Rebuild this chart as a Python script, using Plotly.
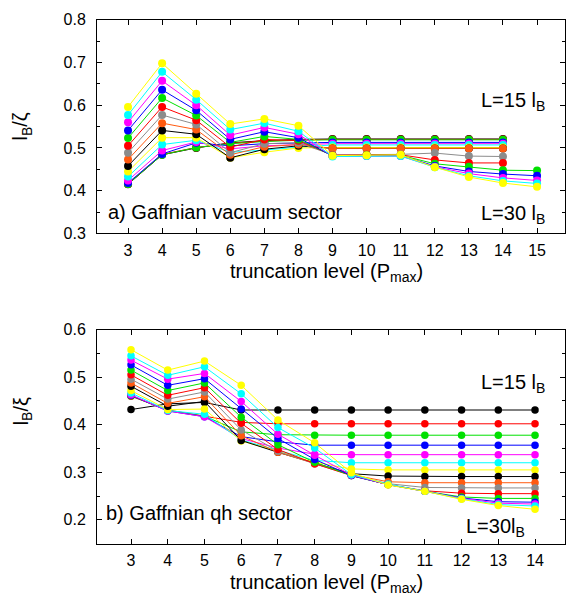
import plotly.graph_objects as go

# ---------------- data ----------------
x_top = [3, 4, 5, 6, 7, 8, 9, 10, 11, 12, 13, 14, 15]
x_bot = [3, 4, 5, 6, 7, 8, 9, 10, 11, 12, 13, 14]

series_names = ["L=15", "L=16", "L=17", "L=18", "L=19", "L=20", "L=21", "L=22",
                "L=23", "L=24", "L=25", "L=26", "L=27", "L=28", "L=29", "L=30"]
series_colors = ["#000000", "#ff0000", "#00e000", "#0000ff", "#ff00ff", "#00ffff",
                 "#ffff00", "#000000", "#ff5a10", "#8c8c8c", "#ff0000", "#00e000",
                 "#0000ff", "#ff00ff", "#00ffff", "#ffff00"]

# panel a) Gaffnian vacuum sector : l_B/zeta vs P_max (x = 3..14, or 3..15)
top_L15 = [0.415, 0.484, 0.500, 0.512, 0.517, 0.520, 0.521, 0.521, 0.521, 0.521, 0.521, 0.521]
top_L16 = [0.416, 0.485, 0.501, 0.511, 0.516, 0.519, 0.520, 0.520, 0.520, 0.520, 0.520, 0.520]
top_L17 = [0.416, 0.484, 0.501, 0.510, 0.515, 0.518, 0.519, 0.519, 0.519, 0.519, 0.519, 0.519]
top_L18 = [0.418, 0.486, 0.512, 0.505, 0.510, 0.512, 0.513, 0.513, 0.513, 0.513, 0.513, 0.513]
top_L19 = [0.424, 0.494, 0.514, 0.498, 0.505, 0.508, 0.510, 0.510, 0.510, 0.510, 0.510, 0.510]
top_L20 = [0.433, 0.508, 0.518, 0.490, 0.495, 0.502, 0.507, 0.507, 0.507, 0.507, 0.507, 0.507]
top_L21 = [0.445, 0.524, 0.524, 0.477, 0.490, 0.500, 0.501, 0.501, 0.501, 0.501, 0.501, 0.501]
top_L22 = [0.458, 0.541, 0.532, 0.477, 0.497, 0.505, 0.499, 0.499, 0.499, 0.499, 0.499, 0.499]
top_L23 = [0.473, 0.558, 0.543, 0.484, 0.503, 0.508, 0.499, 0.499, 0.499, 0.499, 0.499, 0.499]
top_L24 = [0.489, 0.577, 0.555, 0.489, 0.510, 0.512, 0.484, 0.484, 0.485, 0.488, 0.481, 0.480]
top_L25 = [0.505, 0.596, 0.565, 0.502, 0.520, 0.517, 0.483, 0.484, 0.484, 0.472, 0.465, 0.465]
top_L26 = [0.523, 0.617, 0.576, 0.513, 0.527, 0.520, 0.482, 0.483, 0.483, 0.463, 0.456, 0.448, 0.447]
top_L27 = [0.541, 0.636, 0.588, 0.520, 0.538, 0.524, 0.481, 0.482, 0.482, 0.458, 0.445, 0.439, 0.435]
top_L28 = [0.560, 0.657, 0.600, 0.530, 0.548, 0.532, 0.481, 0.481, 0.481, 0.456, 0.440, 0.430, 0.424]
top_L29 = [0.577, 0.678, 0.613, 0.543, 0.558, 0.539, 0.480, 0.481, 0.481, 0.455, 0.435, 0.423, 0.417]
top_L30 = [0.596, 0.698, 0.627, 0.556, 0.568, 0.552, 0.482, 0.483, 0.484, 0.455, 0.432, 0.418, 0.409]

# panel b) Gaffnian qh sector : l_B/xi vs P_max (x = 3..14)
bot_L15 = [0.432, 0.444, 0.447, 0.431, 0.431, 0.431, 0.431, 0.431, 0.431, 0.431, 0.431, 0.431]
bot_L16 = [0.460, 0.431, 0.418, 0.405, 0.402, 0.402, 0.402, 0.402, 0.402, 0.402, 0.402, 0.402]
bot_L17 = [0.461, 0.430, 0.418, 0.385, 0.379, 0.378, 0.378, 0.378, 0.378, 0.378, 0.378, 0.378]
bot_L18 = [0.462, 0.429, 0.417, 0.375, 0.364, 0.357, 0.357, 0.357, 0.357, 0.357, 0.357, 0.357]
bot_L19 = [0.463, 0.429, 0.417, 0.371, 0.351, 0.338, 0.337, 0.337, 0.337, 0.337, 0.337, 0.337]
bot_L20 = [0.467, 0.430, 0.422, 0.368, 0.346, 0.325, 0.320, 0.320, 0.320, 0.320, 0.320, 0.320]
bot_L21 = [0.472, 0.432, 0.433, 0.366, 0.344, 0.321, 0.307, 0.305, 0.305, 0.305, 0.305, 0.305]
bot_L22 = [0.481, 0.439, 0.449, 0.367, 0.342, 0.319, 0.297, 0.292, 0.291, 0.291, 0.291, 0.291]
bot_L23 = [0.488, 0.445, 0.459, 0.377, 0.342, 0.318, 0.295, 0.280, 0.278, 0.278, 0.278, 0.278]
bot_L24 = [0.496, 0.454, 0.469, 0.389, 0.344, 0.318, 0.294, 0.276, 0.268, 0.267, 0.267, 0.267]
bot_L25 = [0.505, 0.462, 0.478, 0.403, 0.348, 0.318, 0.293, 0.274, 0.261, 0.256, 0.255, 0.255]
bot_L26 = [0.515, 0.472, 0.488, 0.416, 0.358, 0.321, 0.293, 0.274, 0.260, 0.248, 0.245, 0.245]
bot_L27 = [0.526, 0.483, 0.497, 0.433, 0.371, 0.327, 0.293, 0.274, 0.260, 0.246, 0.238, 0.237]
bot_L28 = [0.536, 0.496, 0.508, 0.449, 0.380, 0.336, 0.294, 0.274, 0.260, 0.245, 0.235, 0.233]
bot_L29 = [0.545, 0.504, 0.522, 0.465, 0.394, 0.351, 0.295, 0.275, 0.260, 0.244, 0.232, 0.229]
bot_L30 = [0.558, 0.515, 0.534, 0.483, 0.410, 0.362, 0.299, 0.273, 0.260, 0.243, 0.230, 0.222]

top_series = [top_L15, top_L16, top_L17, top_L18, top_L19, top_L20, top_L21, top_L22,
              top_L23, top_L24, top_L25, top_L26, top_L27, top_L28, top_L29, top_L30]
bot_series = [bot_L15, bot_L16, bot_L17, bot_L18, bot_L19, bot_L20, bot_L21, bot_L22,
              bot_L23, bot_L24, bot_L25, bot_L26, bot_L27, bot_L28, bot_L29, bot_L30]

x_ticks_top = [3, 4, 5, 6, 7, 8, 9, 10, 11, 12, 13, 14, 15]
x_ticks_bot = [3, 4, 5, 6, 7, 8, 9, 10, 11, 12, 13, 14]
y_ticks_top = [0.3, 0.4, 0.5, 0.6, 0.7, 0.8]
y_ticks_bot = [0.2, 0.3, 0.4, 0.5, 0.6]

# ---------------- layout helpers ----------------
W, H = 566, 606
FONT = "Liberation Sans, Arial, Helvetica, sans-serif"


def px(x):
    return x / W


def py(y):
    return 1 - y / H


fig = go.Figure()

for name, col, ys in zip(series_names, series_colors, top_series):
    fig.add_trace(go.Scatter(x=x_top[:len(ys)], y=ys, mode="lines+markers", name=name,
                             line=dict(color=col, width=1),
                             marker=dict(color=col, size=8, line=dict(width=0)),
                             xaxis="x", yaxis="y", showlegend=False))

for name, col, ys in zip(series_names, series_colors, bot_series):
    fig.add_trace(go.Scatter(x=x_bot[:len(ys)], y=ys, mode="lines+markers", name=name,
                             line=dict(color=col, width=1),
                             marker=dict(color=col, size=7.5, line=dict(width=0)),
                             xaxis="x2", yaxis="y2", showlegend=False))

axis_common = dict(showline=True, linecolor="black", linewidth=1, mirror="ticks",
                   ticks="inside", ticklen=5, tickcolor="black", showgrid=False,
                   zeroline=False, tickfont=dict(family=FONT, size=16, color="black"))
minor_y = dict(ticks="inside", ticklen=3, tickcolor="black", dtick=0.05, showgrid=False)

fig.update_layout(
    width=W, height=H, margin=dict(l=0, r=0, t=0, b=0),
    paper_bgcolor="white", plot_bgcolor="white",
    font=dict(family=FONT, color="black"),
    xaxis=dict(domain=[px(97), px(565)], range=[2.09, 15.82], tickvals=x_ticks_top,
               anchor="y", ticklabelstandoff=2, **axis_common),
    yaxis=dict(domain=[py(232), py(12)], range=[0.3, 0.8], tickvals=y_ticks_top,
               tickformat=".1f", anchor="x", ticklabelstandoff=7, minor=minor_y,
               **axis_common),
    xaxis2=dict(domain=[px(97), px(565)], range=[2.074, 14.816], tickvals=x_ticks_bot,
                anchor="y2", ticklabelstandoff=2, **axis_common),
    yaxis2=dict(domain=[py(551), py(331)], range=[0.15, 0.6], tickvals=y_ticks_bot,
                tickformat=".1f", anchor="x2", ticklabelstandoff=7, minor=minor_y,
                **axis_common),
)

ann_font = dict(family=FONT, size=20, color="black")
annotations = [
    dict(x=px(106), y=py(210), text="a) Gaffnian vacuum sector", xanchor="left"),
    dict(x=px(547), y=py(96), text="L=15 l<sub>B</sub>", xanchor="right"),
    dict(x=px(547), y=py(212), text="L=30 l<sub>B</sub>", xanchor="right"),
    dict(x=px(326), y=py(272), text="truncation level (P<sub>max</sub>)", xanchor="center"),
    dict(x=px(104), y=py(520), text="b) Gaffnian qh sector", xanchor="left"),
    dict(x=px(547), y=py(386), text="L=15 l<sub>B</sub>", xanchor="right"),
    dict(x=px(527), y=py(535), text="L=30l<sub>B</sub>", xanchor="right"),
    dict(x=px(326), y=py(592), text="truncation level (P<sub>max</sub>)", xanchor="center"),
]
for a in annotations:
    fig.add_annotation(xref="paper", yref="paper", yanchor="middle", showarrow=False,
                       font=ann_font, **a)

fig.add_annotation(xref="paper", yref="paper", x=px(22), y=py(122), text="l<sub>B</sub>/ζ",
                   textangle=-90, showarrow=False, font=ann_font, xanchor="center", yanchor="middle")
fig.add_annotation(xref="paper", yref="paper", x=px(22), y=py(415), text="l<sub>B</sub>/ξ",
                   textangle=-90, showarrow=False, font=ann_font, xanchor="center", yanchor="middle")

fig.write_html("out.html")
